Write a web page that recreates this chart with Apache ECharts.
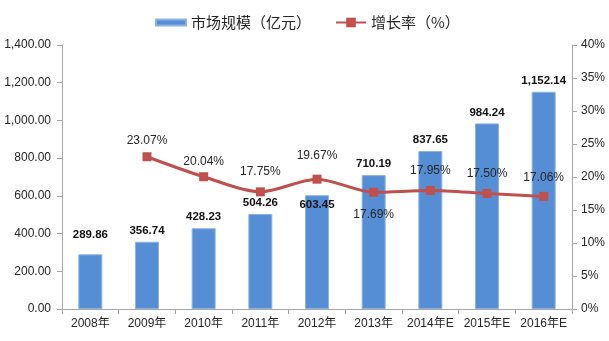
<!DOCTYPE html>
<html><head><meta charset="utf-8">
<script src="https://cdn.jsdelivr.net/npm/echarts@6/dist/echarts.min.js"></script>
<style>html,body{margin:0;padding:0;background:#fff}#c{width:609px;height:341px}</style>
</head><body><div id="c"></div>
<script>
const categories = ['2008年','2009年','2010年','2011年','2012年','2013年','2014年E','2015年E','2016年E'];
const marketSize = [289.86, 356.74, 428.23, 504.26, 603.45, 710.19, 837.65, 984.24, 1152.14];
const growthRate = [null, 23.07, 20.04, 17.75, 19.67, 17.69, 17.95, 17.50, 17.06];
const leftTicks = {min: 0, max: 1400, interval: 200};
const rightTicks = {min: 0, max: 40, interval: 5};

function fmtNum(v){
  const parts = v.toFixed(2).split('.');
  parts[0] = parts[0].replace(/\B(?=(\d{3})+(?!\d))/g, ',');
  return parts.join('.');
}
const numFont = '"Liberation Sans", Arial, sans-serif';
const cjkFont = '"Liberation Sans", "Noto Sans CJK SC", sans-serif';
const axisColor = '#a6a6a6';
const textColor = '#262626';

// label placement tweaks (styling only)
const barLabelCfg = [ {offset:[0,-9]}, {}, {}, {}, {position:'insideTop', distance:4}, {}, {}, {}, {} ];
const lineLabelDist = [0, 6, 5, 10, 13, 12, 9, 9, 8];

const barData = marketSize.map((v,i)=>{
  const o = {value: v};
  if (Object.keys(barLabelCfg[i]).length) o.label = barLabelCfg[i];
  return o;
});
const lineData = growthRate.map((v,i)=>{
  if (v === null) return null;
  return {value: v, label: {position: i===5 ? 'bottom' : 'top', distance: lineLabelDist[i]}};
});

const chart = echarts.init(document.getElementById('c'), null, {renderer:'canvas'});
chart.setOption({
  animation: false,
  backgroundColor: '#fff',
  legend: {
    top: 10, left: 150,
    itemWidth: 30, itemHeight: 12, itemGap: 24,
    textStyle: {fontSize: 15, color: textColor, fontFamily: '"Noto Sans CJK SC", sans-serif'},
    data: [
      {name: '市场规模（亿元）', icon: 'path://M0,0h29v6h-29z'},
      {name: '增长率（%）'}
    ]
  },
  grid: {left: 62, right: 37, top: 45, bottom: 32, containLabel: false},
  xAxis: {
    type: 'category', data: categories,
    axisLine: {lineStyle: {color: axisColor, width: 1}},
    axisTick: {show: true, alignWithLabel: false, length: 5, lineStyle: {color: axisColor}},
    axisLabel: {color: textColor, fontSize: 12, fontFamily: cjkFont, margin: 9, interval: 0},
    splitLine: {show: false}
  },
  yAxis: [
    {
      type: 'value', min: leftTicks.min, max: leftTicks.max, interval: leftTicks.interval,
      axisLine: {show: true, lineStyle: {color: axisColor}},
      axisTick: {show: true, length: 5, lineStyle: {color: axisColor}},
      axisLabel: {color: textColor, fontSize: 12, fontFamily: numFont, margin: 11, formatter: v => fmtNum(v)},
      splitLine: {show: false}
    },
    {
      type: 'value', min: rightTicks.min, max: rightTicks.max, interval: rightTicks.interval,
      position: 'right',
      axisLine: {show: true, lineStyle: {color: axisColor}},
      axisTick: {show: true, length: 5, lineStyle: {color: axisColor}},
      axisLabel: {color: textColor, fontSize: 12, fontFamily: numFont, margin: 9, formatter: v => v + '%'},
      splitLine: {show: false}
    }
  ],
  series: [
    {
      name: '市场规模（亿元）', type: 'bar', data: barData, barWidth: 24,
      itemStyle: {color: '#558ed5', borderColor: '#8db3e2', borderWidth: 1},
      label: {show: true, position: 'top', distance: 5, color: '#111', fontSize: 11.5, fontWeight: 'bold', fontFamily: numFont,
        formatter: p => fmtNum(p.value)},
      z: 2
    },
    {
      name: '增长率（%）', type: 'line', yAxisIndex: 1, data: lineData, smooth: 0.3,
      symbol: 'rect', symbolSize: 9, connectNulls: false,
      lineStyle: {color: '#c0504d', width: 3},
      itemStyle: {color: '#c0504d'},
      label: {show: true, color: textColor, fontSize: 12, fontFamily: numFont,
        formatter: p => p.value.toFixed(2) + '%'},
      z: 3
    }
  ]
});
</script></body></html>
